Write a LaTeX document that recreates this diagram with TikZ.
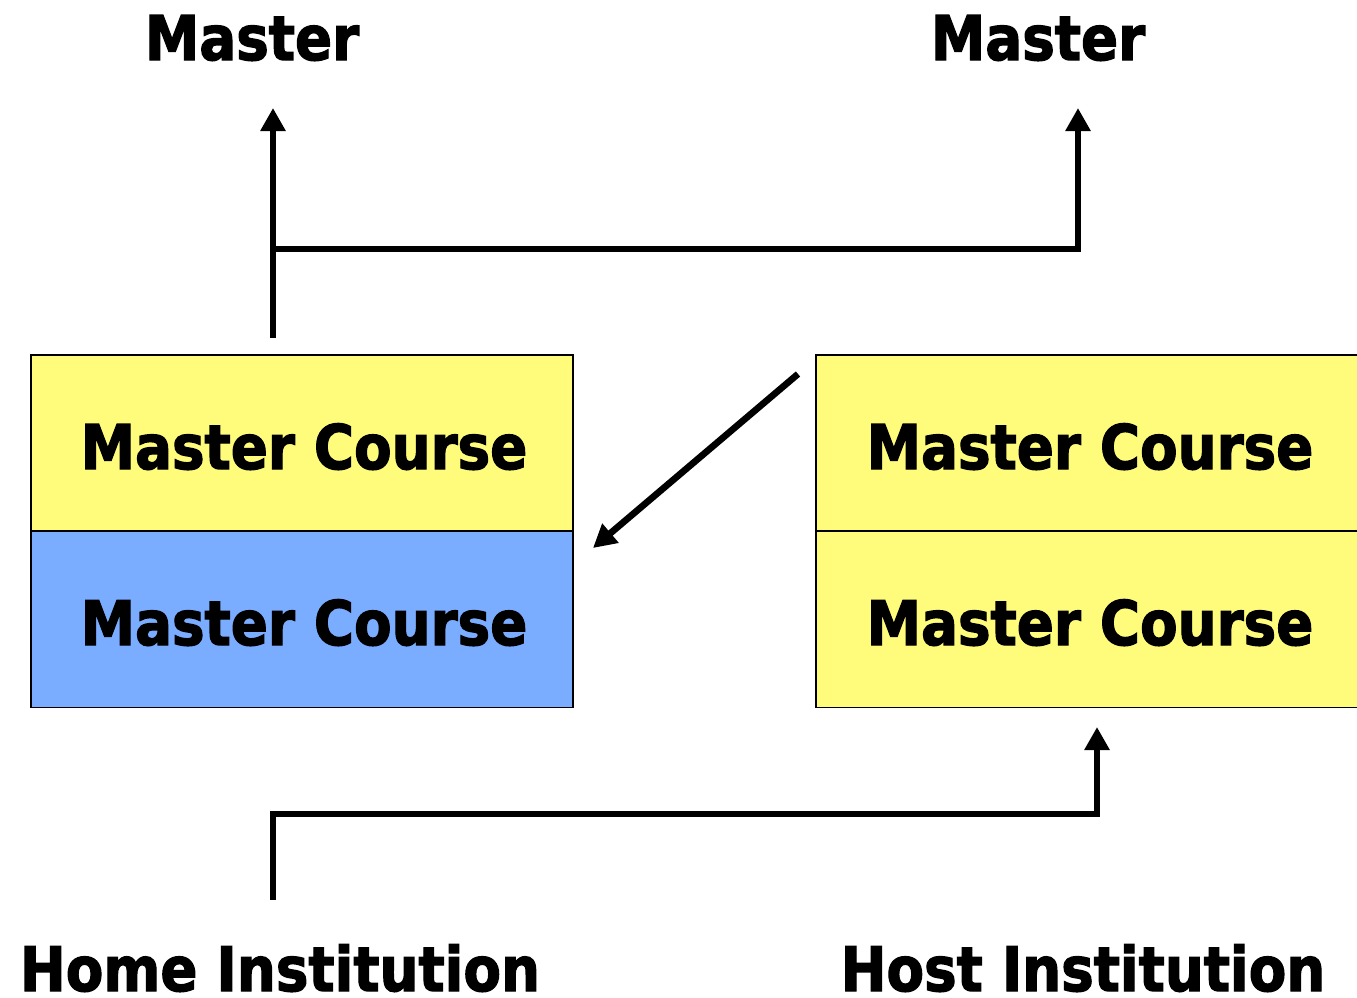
\documentclass[tikz,border=0pt]{standalone}
\usepackage{fontspec}
\setmainfont{DejaVu Sans}[BoldFeatures={FakeBold=2.2}]
\usepackage{xcolor}
\usetikzlibrary{arrows.meta, positioning}

\definecolor{courseyellow}{HTML}{FFFC7C}
\definecolor{courseblue}{HTML}{7AADFF}
\newcommand{\narrowtxt}[1]{\scalebox{0.89}[1]{#1}}

\begin{document}
\begin{tikzpicture}[x=0.02cm, y=-0.02cm,
    heading/.style={font=\bfseries\fontsize{35}{40}\selectfont, inner sep=0pt, anchor=base},
    course/.style={draw, line width=0.9pt, minimum width=10.84cm, minimum height=3.52cm,
        inner sep=0pt},
    flow/.style={line width=3.8pt},
    flowarrow/.style={flow, -{Triangle[length=0.46cm, width=0.48cm]}}]
\useasboundingbox (0,0) rectangle (1357,998);

% course blocks
\node[course, fill=courseyellow] (homeTop) at (302,443) {};
\node[course, fill=courseblue] (homeBot) at (302,619.5) {};
\node[course, fill=courseyellow] (hostTop) at (1087,443) {};
\node[course, fill=courseyellow] (hostBot) at (1087,619.5) {};

% texts (set at their base lines)
\node[heading] (masterL) at (252,60) {\narrowtxt{Master}};
\node[heading] (masterR) at (1038,60) {\narrowtxt{Master}};
\node[heading] (homeTopTxt) at (304,469) {\narrowtxt{Master Course}};
\node[heading] (homeBotTxt) at (304,645) {\narrowtxt{Master Course}};
\node[heading] (hostTopTxt) at (1090,469) {\narrowtxt{Master Course}};
\node[heading] (hostBotTxt) at (1090,645) {\narrowtxt{Master Course}};
\node[heading] (home) at (280,991) {\narrowtxt{Home Institution}};
\node[heading] (host) at (1083,991) {\narrowtxt{Host Institution}};

% connector end points
\coordinate (upL) at (273,338);
\coordinate (tipL) at (273,108);
\coordinate (split) at (273,249);
\coordinate (tipR) at (1078,108);
\coordinate (diagS) at (798,374);
\coordinate (diagE) at (593,548);
\coordinate (baseL) at (273,900);
\coordinate (tipB) at (1097,727);

\draw[flowarrow] (upL) -- (tipL);
\draw[flowarrow] (split) -| (tipR);
\draw[flowarrow] (diagS) -- (diagE);
\draw[flowarrow] (baseL) |- (1097,814) -- (tipB);
\end{tikzpicture}
\end{document}
